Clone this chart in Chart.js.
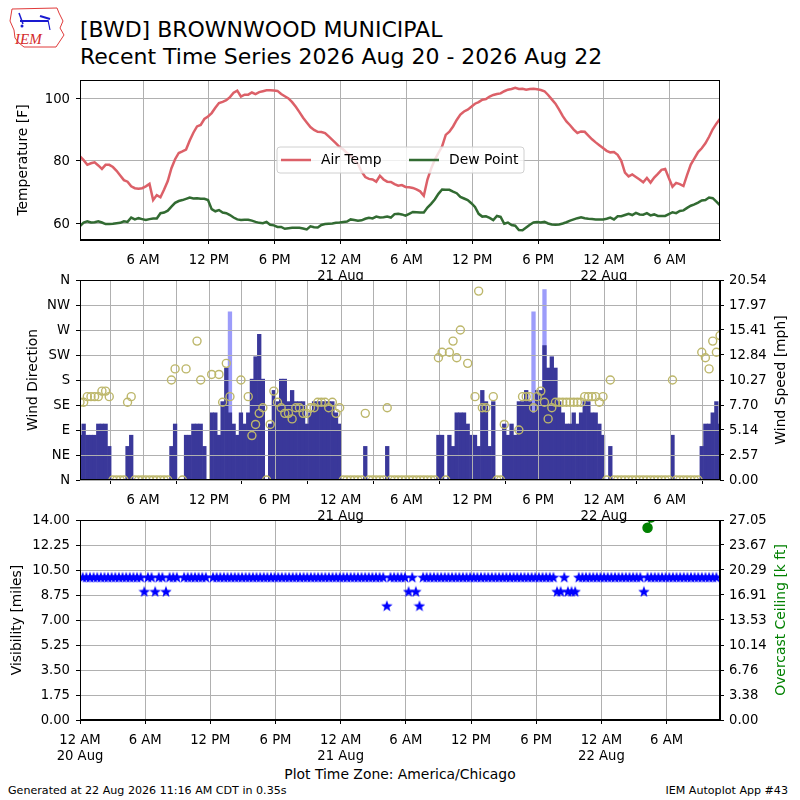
<!DOCTYPE html>
<html>
<head>
<meta charset="utf-8">
<script src="https://cdn.jsdelivr.net/npm/chart.js@4.4.1/dist/chart.umd.min.js"></script>
<style>
  body { margin: 0; background: #fff; }
  #wrap { position: relative; width: 800px; height: 800px; overflow: hidden; background: #fff; }
  #wrap canvas { position: absolute; left: 0; }
  #txt { position: absolute; left: 0; top: 0; }
</style>
</head>
<body>
<div id="wrap">
  <svg id="txt" width="800" height="800" font-family="DejaVu Sans, sans-serif">
    <!-- logo -->
    <path d="M12 9 L57 8 L59 13 L63 21 L60 28 L64 35 L60 41 L56 47 L24 47 L19 43 L15 38 L14 30 L10 21 Z" fill="none" stroke="#e03a3a" stroke-width="1"/>
    <line x1="20" y1="21" x2="48" y2="21" stroke="#1a1ad0" stroke-width="2"/>
    <line x1="19" y1="13" x2="23" y2="24" stroke="#1a1ad0" stroke-width="1.5"/>
    <line x1="40" y1="16" x2="50" y2="19" stroke="#1a1ad0" stroke-width="2"/>
    <line x1="48" y1="20" x2="50" y2="30" stroke="#1a1ad0" stroke-width="1.2"/>
    <circle cx="22" cy="26" r="1.5" fill="#1a1ad0"/>
    <text x="15" y="44" font-family="Liberation Serif, serif" font-style="italic" font-size="15" fill="#d42a2a">IEM</text>
    <!-- titles -->
    <text x="80" y="37" font-size="22" fill="#000">[BWD] BROWNWOOD MUNICIPAL</text>
    <text x="80" y="63.5" font-size="22" fill="#000">Recent Time Series 2026 Aug 20 - 2026 Aug 22</text>
    <text x="400" y="779" font-size="13.9" fill="#000" text-anchor="middle">Plot Time Zone: America/Chicago</text>
    <text x="8" y="794" font-size="11.1" fill="#000">Generated at 22 Aug 2026 11:16 AM CDT in 0.35s</text>
    <text x="788" y="794" font-size="11.1" fill="#000" text-anchor="end">IEM Autoplot App #43</text>
  </svg>
  <canvas id="cTemp" width="800" height="210" style="top:70px"></canvas>
  <canvas id="cVis" width="800" height="270" style="top:510px"></canvas>
  <canvas id="cWind" width="800" height="256" style="top:270px"></canvas>
</div>
<script>
// hours after 20 Aug 00:00 (America/Chicago); observations every 20 minutes (:15, :35, :55)
const obTimes = Array.from({ length: 176 }, (_, i) => 0.25 + i / 3);

const airTemp = [
  81.4, 80.2, 78.7, 79.2, 79.5, 78.5, 77.4, 78.7, 78.7, 78.0,
  76.8, 75.3, 73.8, 73.3, 71.8, 71.2, 71.0, 71.2, 71.8, 72.6,
  67.4, 69.0, 68.3, 70.8, 73.5, 77.6, 80.5, 82.5, 83.0, 83.6,
  86.5, 89.0, 91.0, 91.5, 93.4, 94.2, 95.3, 97.0, 98.5, 98.9,
  99.4, 100.4, 101.8, 102.5, 100.6, 101.2, 101.2, 101.9, 101.4, 102.0,
  102.3, 102.6, 102.6, 102.5, 102.4, 101.4, 100.7, 100.0, 98.8, 97.3,
  95.6, 93.8, 92.3, 90.8, 89.9, 89.3, 89.2, 88.9, 87.8, 86.7,
  85.6, 84.4, 83.6, 82.5, 81.6, 80.3, 79.0, 76.5, 74.8, 74.2,
  74.0, 73.3, 75.2, 74.0, 73.3, 73.2, 72.5, 72.0, 72.2, 71.6,
  71.5, 71.3, 70.8, 70.2, 68.8, 74.0, 77.5, 80.3, 82.5, 84.6,
  88.3, 89.3, 91.0, 93.1, 94.8, 95.8, 96.4, 97.3, 98.3, 98.8,
  99.6, 99.8, 100.6, 101.1, 101.4, 101.6, 102.3, 102.8, 103.0, 103.4,
  103.0, 103.1, 102.8, 103.0, 103.1, 102.9, 102.7, 102.3, 101.1, 99.7,
  98.3, 96.4, 94.3, 92.6, 91.4, 90.0, 88.9, 89.4, 89.3, 88.1,
  86.9, 85.9, 85.0, 84.1, 83.2, 82.7, 82.8, 81.9, 80.0, 76.2,
  75.0, 75.6, 74.8, 74.0, 73.1, 74.5, 73.0, 74.6, 75.8, 77.1,
  77.4, 74.5, 71.7, 72.9, 72.5, 71.9, 75.5, 78.8, 80.8, 82.8,
  84.0, 85.6, 87.7, 90.1, 91.9, 93.5
];

const dewPoint = [
  59.1, 60.2, 60.6, 60.2, 60.3, 60.6, 60.2, 59.7, 59.7, 59.8,
  60.0, 60.1, 60.6, 60.4, 61.8, 61.2, 61.6, 61.3, 61.0, 61.3,
  61.5, 61.5, 63.2, 63.4, 64.0, 65.3, 66.5, 67.1, 67.4, 67.8,
  68.2, 67.9, 68.0, 67.8, 67.8, 67.4, 64.5, 63.8, 64.2, 63.4,
  63.2, 62.6, 61.8, 61.2, 61.0, 61.1, 61.1, 60.8, 60.4, 60.1,
  60.0, 60.4, 59.5, 59.3, 58.8, 58.8, 58.2, 58.4, 58.5, 58.5,
  58.5, 58.3, 58.0, 59.0, 58.7, 58.6, 59.4, 59.7, 59.8, 59.9,
  60.1, 60.2, 60.4, 60.5, 61.2, 61.0, 60.8, 60.9, 61.4, 61.7,
  61.5, 62.1, 61.8, 61.9, 62.1, 61.8, 62.9, 63.0, 62.8, 62.4,
  63.0, 63.6, 63.5, 63.4, 63.4, 65.0, 66.2, 67.6, 69.4, 70.8,
  70.7, 70.7, 70.1, 69.6, 68.4, 67.9, 67.4, 66.4, 65.2, 63.0,
  62.1, 62.2, 61.7, 61.0, 62.3, 62.0, 59.8, 60.2, 59.4, 59.2,
  57.8, 57.7, 58.6, 59.5, 60.2, 60.4, 60.2, 60.4, 59.9, 59.6,
  59.5, 59.6, 59.9, 60.3, 60.8, 61.2, 61.6, 61.9, 61.6, 61.4,
  61.3, 61.2, 61.2, 61.2, 61.4, 61.8, 61.2, 62.2, 62.2, 62.6,
  63.0, 62.6, 63.3, 62.8, 62.7, 63.2, 62.5, 62.8, 62.3, 62.3,
  62.3, 62.9, 63.5, 63.2, 63.9, 64.1, 64.9, 65.6, 66.0, 66.6,
  67.3, 67.4, 68.2, 68.0, 66.9, 65.7
];

// wind direction in degrees (0 = calm / north), null = variable / missing
const windDir = [
  140, 140, 150, 150, 150, 150, 160, 160, 150, 0,
  0, 0, 0, 140, 150, 0, 0, 0, 0, 0,
  0, 0, 0, 0, 0, 180, 200, null, 0, 200,
  null, null, 250, 180, null, null, 190, null, 190, 140,
  210, 150, null, null, 180, null, 150, 80, 100, 120,
  130, 0, 100, 160, 140, 130, 120, 120, 110, 130,
  130, 120, 120, 130, 130, 140, 140, 140, 130, 140,
  120, 130, 0, 0, 0, 0, 0, 0, 120, 0,
  0, 0, 0, 0, 130, 0, 0, 0, 0, 0,
  0, 0, 0, 0, 0, 0, 0, 0, 220, 230,
  0, 230, 250, 220, 270, null, 210, null, 150, 340,
  130, 130, null, 150, 0, 0, 100, null, null, null,
  90, 150, 150, 150, 130, 150, 160, 140, 110, 130,
  140, 140, 140, 140, 140, 140, 140, 140, 150, 150,
  150, 150, 140, 150, 0, 180, 0, 0, 0, 0,
  0, 0, 0, 0, 0, 0, 0, 0, 0, 0,
  0, 0, 180, 0, 0, 0, 0, 0, 0, 0,
  230, 220, 200, 250, 230, 260
];

// wind speed [mph]
const windSpeed = [
  4.6, 5.75, 4.6, 4.6, 4.6, 5.75, 5.75, 5.75, 3.45, 0,
  0, 0, 0, 3.45, 4.6, 0, 0, 0, 0, 0,
  0, 0, 0, 0, 0, 3.45, 5.75, 0, 0, 4.6,
  4.6, 5.75, 5.75, 5.75, 3.45, null, 6.9, 6.9, 4.6, 8.05,
  11.5, 6.9, 5.75, 4.6, 6.9, 5.75, 6.9, 10.36, 12.66, 14.96,
  10.36, 0, 5.75, 9.2, 8.05, 10.36, 10.36, 8.05, 9.2, 8.05,
  8.05, 8.05, 5.75, 6.9, 8.05, 8.05, 8.05, 8.05, 8.05, 8.05,
  6.9, 5.75, 0, 0, 0, 0, 0, 0, 3.45, 0,
  0, 0, 0, 0, 3.45, 0, 0, 0, 0, 0,
  0, 0, 0, 0, 0, 0, 0, 0, 4.6, 4.6,
  0, 4.6, 3.45, 6.9, 6.9, 6.9, 5.75, 4.6, 4.6, 3.45,
  9.2, 8.05, 3.45, 8.05, 0, 0, 5.75, 4.6, 5.75, 4.6,
  8.05, 8.05, 9.2, 8.05, 6.9, 9.2, 9.2, 13.8, 11.5, 12.66,
  11.5, 8.05, 6.9, 5.75, 5.75, 6.9, 5.75, 6.9, 8.05, 8.05,
  6.9, 6.9, 5.75, 4.6, 0, 3.45, 0, 0, 0, 0,
  0, 0, 0, 0, 0, 0, 0, 0, 0, 0,
  0, 0, 4.6, 0, 0, 0, 0, 0, 0, 0,
  3.45, 5.75, 5.75, 6.9, 8.05, 5.75
];

// gusts [mph] as [observation index, value]
const windGust = [[41, 17.26], [124, 17.26], [127, 19.55]];

// visibility [miles]
const visibility = [
  10, 10, 10, 10, 10, 10, 10, 10, 10, 10,
  10, 10, 10, 10, 10, 10, 10, 9, 10, 10,
  9, 10, 10, 9, 10, 10, 10, null, 10, 10,
  10, 10, 10, 10, 10, null, 10, 10, 10, 10,
  10, 10, 10, 10, 10, 10, 10, 10, 10, 10,
  10, 10, 10, 10, 10, 10, 10, 10, 10, 10,
  10, 10, 10, 10, 10, 10, 10, 10, 10, 10,
  10, 10, 10, 10, 10, 10, 10, 10, 10, 10,
  10, 10, 10, 10, 8, 10, 10, 10, 10, 10,
  9, 10, 9, 8, 10, 10, 10, 10, 10, 10,
  10, 10, 10, 10, 10, 10, 10, 10, 10, 10,
  10, 10, 10, 10, 10, 10, 10, 10, 10, 10,
  10, 10, 10, 10, 10, 10, 10, 10, 10, 10,
  10, 9, 9, 10, 9, 9, 9, 10, 10, 10,
  10, 10, 10, 10, 10, 10, 10, 10, 10, 10,
  10, 10, 10, 10, 10, 9, 10, 10, 10, 10,
  10, 10, 10, 10, 10, 10, 10, 10, 10, 10,
  10, 10, 10, 10, 10, 10
];

// overcast ceiling [k ft] as [observation index, value]
const ceiling = [[156, 26.0], [157, 27.4]];

const xTickHours = [0, 6, 12, 18, 24, 30, 36, 42, 48, 54];
const xTickLabels = [['12 AM', '20 Aug'], '6 AM', '12 PM', '6 PM', ['12 AM', '21 Aug'], '6 AM', '12 PM', '6 PM', ['12 AM', '22 Aug'], '6 AM'];
const tempTicks = [60, 80, 100];
const dirTicks = [0, 45, 90, 135, 180, 225, 270, 315, 360];
const dirLabels = ['N', 'NE', 'E', 'SE', 'S', 'SW', 'W', 'NW', 'N'];
const speedTicks = [0, 2.57, 5.14, 7.70, 10.27, 12.84, 15.41, 17.97, 20.54];
const visTicks = [0, 1.75, 3.5, 5.25, 7, 8.75, 10.5, 12.25, 14];
const ceilTicks = [0, 3.38, 6.76, 10.14, 13.53, 16.91, 20.29, 23.67, 27.05];

Chart.defaults.font.family = '"DejaVu Sans", sans-serif';
Chart.defaults.font.size = 13.2;
Chart.defaults.color = '#000';

const pts = arr => obTimes.map((t, i) => ({ x: t, y: arr[i] }));
const idxPts = pairs => pairs.map(([i, v]) => ({ x: obTimes[i], y: v }));

const GRID = '#b0b0b0';

function xScale(min, max, h) {
  return {
    type: 'linear', min, max, offset: false,
    afterBuildTicks: s => { s.ticks = xTickHours.filter(v => v >= min && v <= max).map(v => ({ value: v })); },
    afterFit: s => { s.height = h; s.paddingLeft = 0; s.paddingRight = 0; },
    ticks: { maxRotation: 0, autoSkip: false, padding: 8, font: { lineHeight: 1.25 }, callback: v => xTickLabels[xTickHours.indexOf(v)] },
    grid: { color: GRID, tickColor: '#000', tickLength: 4 },
    border: { color: '#000' }
  };
}

function yScale(min, max, tickVals, fmt, pos) {
  const right = pos === 'right';
  return {
    type: 'linear', position: pos || 'left', min, max,
    afterBuildTicks: s => { s.ticks = tickVals.map(v => ({ value: v })); },
    afterFit: s => { s.width = 80; s.paddingTop = 0; s.paddingBottom = 0; },
    ticks: { padding: right ? 5 : 6, labelOffset: 1, callback: fmt },
    grid: right ? { drawOnChartArea: false, tickColor: '#000', tickLength: 4 } : { color: GRID, tickColor: '#000', tickLength: 4 },
    border: { color: '#000' }
  };
}

const frame = {
  id: 'frame',
  afterDraw(chart) {
    const { ctx, chartArea: a } = chart;
    ctx.save();
    ctx.strokeStyle = '#000';
    ctx.lineWidth = 1;
    ctx.strokeRect(Math.round(a.left) + 0.5, Math.round(a.top) + 0.5, Math.round(a.right - a.left) - 1, Math.round(a.bottom - a.top) - 1);
    ctx.restore();
  }
};

function sideTitles(items) {
  return {
    id: 'sideTitles',
    afterDraw(chart) {
      const { ctx, chartArea: a } = chart;
      items.forEach(it => {
        ctx.save();
        ctx.translate(it.x, (a.top + a.bottom) / 2);
        ctx.rotate(-Math.PI / 2);
        ctx.font = '13.9px "DejaVu Sans", sans-serif';
        ctx.fillStyle = it.color || '#000';
        ctx.textAlign = 'center';
        ctx.textBaseline = 'middle';
        ctx.fillText(it.text, 0, 0);
        ctx.restore();
      });
    }
  };
}

const tempLegend = {
  id: 'tempLegend',
  afterDraw(chart) {
    const ctx = chart.ctx;
    const oy = 70;
    ctx.save();
    ctx.beginPath();
    ctx.roundRect(277, 147 - oy, 247, 26, 3);
    ctx.fillStyle = 'rgba(255,255,255,0.8)';
    ctx.fill();
    ctx.strokeStyle = '#d0d0d0';
    ctx.lineWidth = 1;
    ctx.stroke();
    const items = [
      { x: 281, text: 'Air Temp', color: chart.data.datasets[0].borderColor },
      { x: 409, text: 'Dew Point', color: chart.data.datasets[1].borderColor }
    ];
    ctx.font = '13.9px "DejaVu Sans", sans-serif';
    ctx.textBaseline = 'middle';
    items.forEach(it => {
      ctx.strokeStyle = it.color;
      ctx.lineWidth = 2.5;
      ctx.beginPath();
      ctx.moveTo(it.x, 160 - oy);
      ctx.lineTo(it.x + 30, 160 - oy);
      ctx.stroke();
      ctx.fillStyle = '#000';
      ctx.fillText(it.text, it.x + 40, 160 - oy);
    });
    ctx.restore();
  }
};

// grid lines painted over the wind bars
const gridOverBars = {
  id: 'gridOverBars',
  afterDatasetDraw(chart, args) {
    if (args.index !== 1) return;
    const { ctx, chartArea: a, scales } = chart;
    ctx.save();
    ctx.strokeStyle = GRID;
    ctx.lineWidth = 1;
    ctx.beginPath();
    scales.x.ticks.forEach(t => {
      const x = Math.round(scales.x.getPixelForValue(t.value)) + 0.5;
      ctx.moveTo(x, a.top); ctx.lineTo(x, a.bottom);
    });
    scales.y.ticks.forEach(t => {
      const y = Math.round(scales.y.getPixelForValue(t.value)) + 0.5;
      ctx.moveTo(a.left, y); ctx.lineTo(a.right, y);
    });
    ctx.stroke();
    ctx.restore();
  }
};

function starImage(size, color) {
  const c = document.createElement('canvas');
  c.width = size; c.height = size;
  const g = c.getContext('2d');
  const r = size / 2, ri = r * 0.42;
  g.beginPath();
  for (let i = 0; i < 10; i++) {
    const a = -Math.PI / 2 + i * Math.PI / 5;
    const rr = i % 2 ? ri : r;
    g.lineTo(r + rr * Math.cos(a), r + 0.6 + rr * Math.sin(a));
  }
  g.closePath();
  g.fillStyle = color;
  g.fill();
  return c;
}

const common = {
  responsive: false,
  animation: false,
  events: [],
  plugins: { legend: { display: false }, tooltip: { enabled: false } }
};

new Chart(document.getElementById('cTemp'), {
  type: 'line',
  data: {
    datasets: [
      { label: 'Air Temp', data: pts(airTemp), borderColor: '#dc6068', borderWidth: 2.5, pointRadius: 0 },
      { label: 'Dew Point', data: pts(dewPoint), borderColor: '#326b32', borderWidth: 2.5, pointRadius: 0 }
    ]
  },
  options: {
    ...common,
    layout: { padding: { top: 10, right: 80, left: 0, bottom: 0 } },
    scales: {
      x: xScale(0.25, 58.58, 40),
      y: yScale(54.6, 105.9, tempTicks, v => String(v))
    }
  },
  plugins: [frame, sideTitles([{ text: 'Temperature [F]', x: 23 }]), tempLegend]
});

new Chart(document.getElementById('cWind'), {
  type: 'bar',
  data: {
    datasets: [
      {
        type: 'scatter', label: 'Wind Direction', data: pts(windDir), yAxisID: 'y', order: 0,
        pointRadius: 4, pointBorderWidth: 1.4, borderColor: '#bdb76b', backgroundColor: 'rgba(0,0,0,0)'
      },
      {
        type: 'bar', label: 'Wind Speed', data: pts(windSpeed), yAxisID: 'ySpd', order: 1,
        backgroundColor: '#3a389a', grouped: false, barPercentage: 1, categoryPercentage: 1, borderWidth: 0
      },
      {
        type: 'bar', label: 'Wind Gust', data: idxPts(windGust), yAxisID: 'ySpd', order: 2,
        backgroundColor: '#9c9cfa', grouped: false, barPercentage: 1, categoryPercentage: 1, borderWidth: 0
      }
    ]
  },
  options: {
    ...common,
    layout: { padding: { top: 10, right: 0, left: 0, bottom: 0 } },
    scales: {
      x: xScale(0.25, 58.58, 46),
      y: yScale(0, 360, dirTicks, v => dirLabels[dirTicks.indexOf(v)]),
      ySpd: yScale(0, 20.54, speedTicks, v => v.toFixed(2), 'right')
    }
  },
  plugins: [frame, gridOverBars, sideTitles([{ text: 'Wind Direction', x: 33 }, { text: 'Wind Speed [mph]', x: 781 }])]
});

new Chart(document.getElementById('cVis'), {
  type: 'scatter',
  data: {
    datasets: [
      {
        label: 'Visibility', data: pts(visibility), yAxisID: 'y',
        pointStyle: starImage(12, '#0000ff'), pointRadius: 6
      },
      {
        type: 'line', label: 'Overcast Ceiling', data: idxPts(ceiling), yAxisID: 'yCeil',
        borderColor: '#008000', borderWidth: 1.5, pointRadius: 4.5,
        pointBackgroundColor: '#008000', pointBorderColor: '#008000'
      }
    ]
  },
  options: {
    ...common,
    layout: { padding: { top: 10, right: 0, left: 0, bottom: 0 } },
    scales: {
      x: xScale(0, 58.92, 60),
      y: yScale(0, 14, visTicks, v => v.toFixed(2)),
      yCeil: yScale(0, 27.05, ceilTicks, v => v.toFixed(2), 'right')
    }
  },
  plugins: [frame, sideTitles([{ text: 'Visibility [miles]', x: 17 }, { text: 'Overcast Ceiling [k ft]', x: 781, color: '#008000' }])]
});
</script>
</body>
</html>
